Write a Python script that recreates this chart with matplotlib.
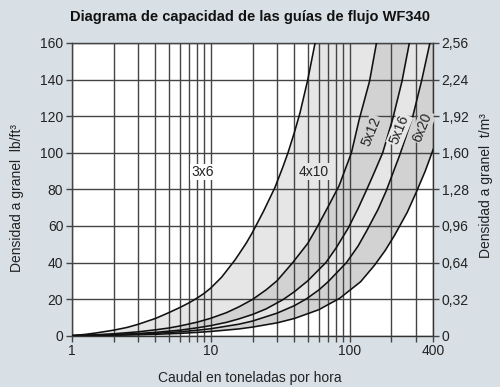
import matplotlib
matplotlib.use('Agg')
import matplotlib.pyplot as plt

plt.rcParams['font.family'] = ['Liberation Sans', 'DejaVu Sans']

# Curves: flow (t/h) vs. bulk density (lb/ft3)
c1_x = [1, 1.25, 1.5, 2, 2.5, 3, 4, 5, 6, 7, 8, 9, 10, 12, 15, 18, 20, 24, 29, 33, 36, 40, 44, 50, 56.4]
c1_y = [0, 0.7, 1.5, 3, 4.5, 6.2, 9.4, 12.6, 15.4, 18, 20.6, 23.2, 26, 32, 41.5, 50.5, 56.5, 68, 81, 92, 100, 111, 122, 140, 160]

c2_x = [1, 1.25, 1.5, 2, 3, 4, 5, 6, 8, 10, 13, 16, 20, 25, 30, 39, 50, 58.5, 70, 84, 103, 117, 139, 156]
c2_y = [0, 0.25, 0.5, 1.05, 2.1, 3.2, 4.2, 5.3, 7.4, 9.5, 12.6, 15.8, 19.8, 25, 30, 40, 50.5, 59.5, 70.5, 82, 100, 118, 139, 160]

c3_x = [1, 1.5, 2, 3, 4, 6, 8, 10, 13, 16, 20, 25, 33, 40, 50, 67.5, 80, 98, 115, 133, 150, 173, 205, 238, 269]
c3_y = [0, 0.3, 0.6, 1.2, 1.8, 3, 4.3, 5.5, 7.3, 9.2, 11.6, 14.6, 19.6, 24, 30, 40, 48, 59, 69.5, 80, 89, 100, 119, 139, 160]

c4_x = [1, 1.5, 2, 3, 4, 6, 8, 10, 16, 20, 30, 40, 49, 60, 70, 95, 115, 133, 160, 183, 230, 285, 331, 378]
c4_y = [0, 0.2, 0.4, 0.85, 1.3, 2.1, 3, 3.8, 6.3, 8, 12.3, 16.4, 20.2, 25, 29.5, 40, 49, 57.5, 69, 79, 99, 120, 140, 160]

c5_x = [1, 1.5, 2, 3, 4, 6, 8, 10, 16, 20, 30, 40, 60, 85, 120, 151, 180, 211, 260, 302, 350, 400]
c5_y = [0, 0.12, 0.25, 0.5, 0.75, 1.25, 1.8, 2.3, 3.7, 4.7, 7, 9.4, 14.2, 20.5, 29.5, 38.5, 46.5, 55, 67.5, 78.5, 90, 102]

curves = [(c1_x, c1_y), (c2_x, c2_y), (c3_x, c3_y), (c4_x, c4_y), (c5_x, c5_y)]
band_colors = ['#e6e6e6', '#d2d2d2', '#e6e6e6', '#d2d2d2']

# Labels of the guide sizes: text, x, y, rotation, background
size_labels = ['3x6', '4x10', '5x12', '5x16', '6x20']
label_x = [8.8, 54.7, 144, 228, 335]
label_y = [89.5, 89.7, 111.5, 112.5, 114]
label_rot = [0, 0, 68, 68, 68]
label_bg = ['white', '#e6e6e6', '#d2d2d2', '#e6e6e6', '#d2d2d2']

x_major = [1, 10, 100, 400]
x_minor = [2, 3, 4, 5, 6, 7, 8, 9, 20, 30, 40, 50, 60, 70, 80, 90, 200, 300]
y_ticks = [0, 20, 40, 60, 80, 100, 120, 140, 160]
y_right_ticks = [0, 0.32, 0.64, 0.96, 1.28, 1.60, 1.92, 2.24, 2.56]
y_right_labels = ['0', '0,32', '0,64', '0,96', '1,28', '1,60', '1,92', '2,24', '2,56']

fig = plt.figure(figsize=(5.0, 3.87), dpi=100)
fig.patch.set_facecolor('#d8e0e6')
ax = fig.add_axes([0.1434, 0.1326, 0.7232, 0.7563])
ax.set_facecolor('white')
ax.set_xscale('log')
ax.set_xlim(1, 400)
ax.set_ylim(0, 160)

# Shaded bands between neighbouring curves
for i in range(4):
    xa, ya = curves[i]
    xb, yb = curves[i + 1]
    px = list(xa)
    py = list(ya)
    if i == 3:
        # last band also covers the top right corner
        px.append(400)
        py.append(160)
    px += list(xb[::-1])
    py += list(yb[::-1])
    ax.fill(px, py, color=band_colors[i], lw=0, zorder=1)

# Curves
for cx, cy in curves:
    ax.plot(cx, cy, color='#111111', lw=1.15, zorder=3, clip_on=True)

# Grid on top of the bands
ax.set_xticks(x_major)
ax.set_xticklabels([str(v) for v in x_major])
ax.set_xticks(x_minor, minor=True)
ax.set_xticklabels([], minor=True)
ax.set_yticks(y_ticks)
ax.set_axisbelow(False)
ax.grid(True, which='both', color='#444444', lw=1.0)

ax.tick_params(which='both', direction='out', length=4, width=1, color='#444444',
               labelsize=10, labelcolor='#222222', pad=2)

for s in ax.spines.values():
    s.set_color('#333333')
    s.set_linewidth(1.0)

# Right axis in t/m3
ax2 = ax.twinx()
ax2.set_ylim(0, 2.56)
ax2.set_yticks(y_right_ticks)
ax2.set_yticklabels(y_right_labels)
ax2.tick_params(direction='out', length=4, width=1, color='#444444',
                labelsize=10, labelcolor='#222222', pad=2)
for s in ax2.spines.values():
    s.set_visible(False)

# Size labels
for t, lx, ly, r, bg in zip(size_labels, label_x, label_y, label_rot, label_bg):
    ax.text(lx, ly, t, fontsize=10, color='#222222', rotation=r,
            ha='center', va='center', zorder=4,
            bbox=dict(facecolor=bg, edgecolor='none', pad=1.0))

fig.text(0.5, 1 - 17 / 387, 'Diagrama de capacidad de las guías de flujo WF340',
         ha='center', va='center', fontsize=10.5, fontweight='bold', color='#111111')
fig.text(0.5, 1 - 378 / 387, 'Caudal en toneladas por hora',
         ha='center', va='center', fontsize=10, color='#222222')
fig.text(17 / 500, 1 - 198 / 387, 'Densidad a granel  lb/ft³', rotation=90,
         ha='center', va='center', fontsize=10, color='#222222')
fig.text(486 / 500, 1 - 186 / 387, 'Densidad a granel  t/m³', rotation=90,
         ha='center', va='center', fontsize=10, color='#222222')

fig.savefig('out.png', dpi=100, facecolor=fig.get_facecolor())
